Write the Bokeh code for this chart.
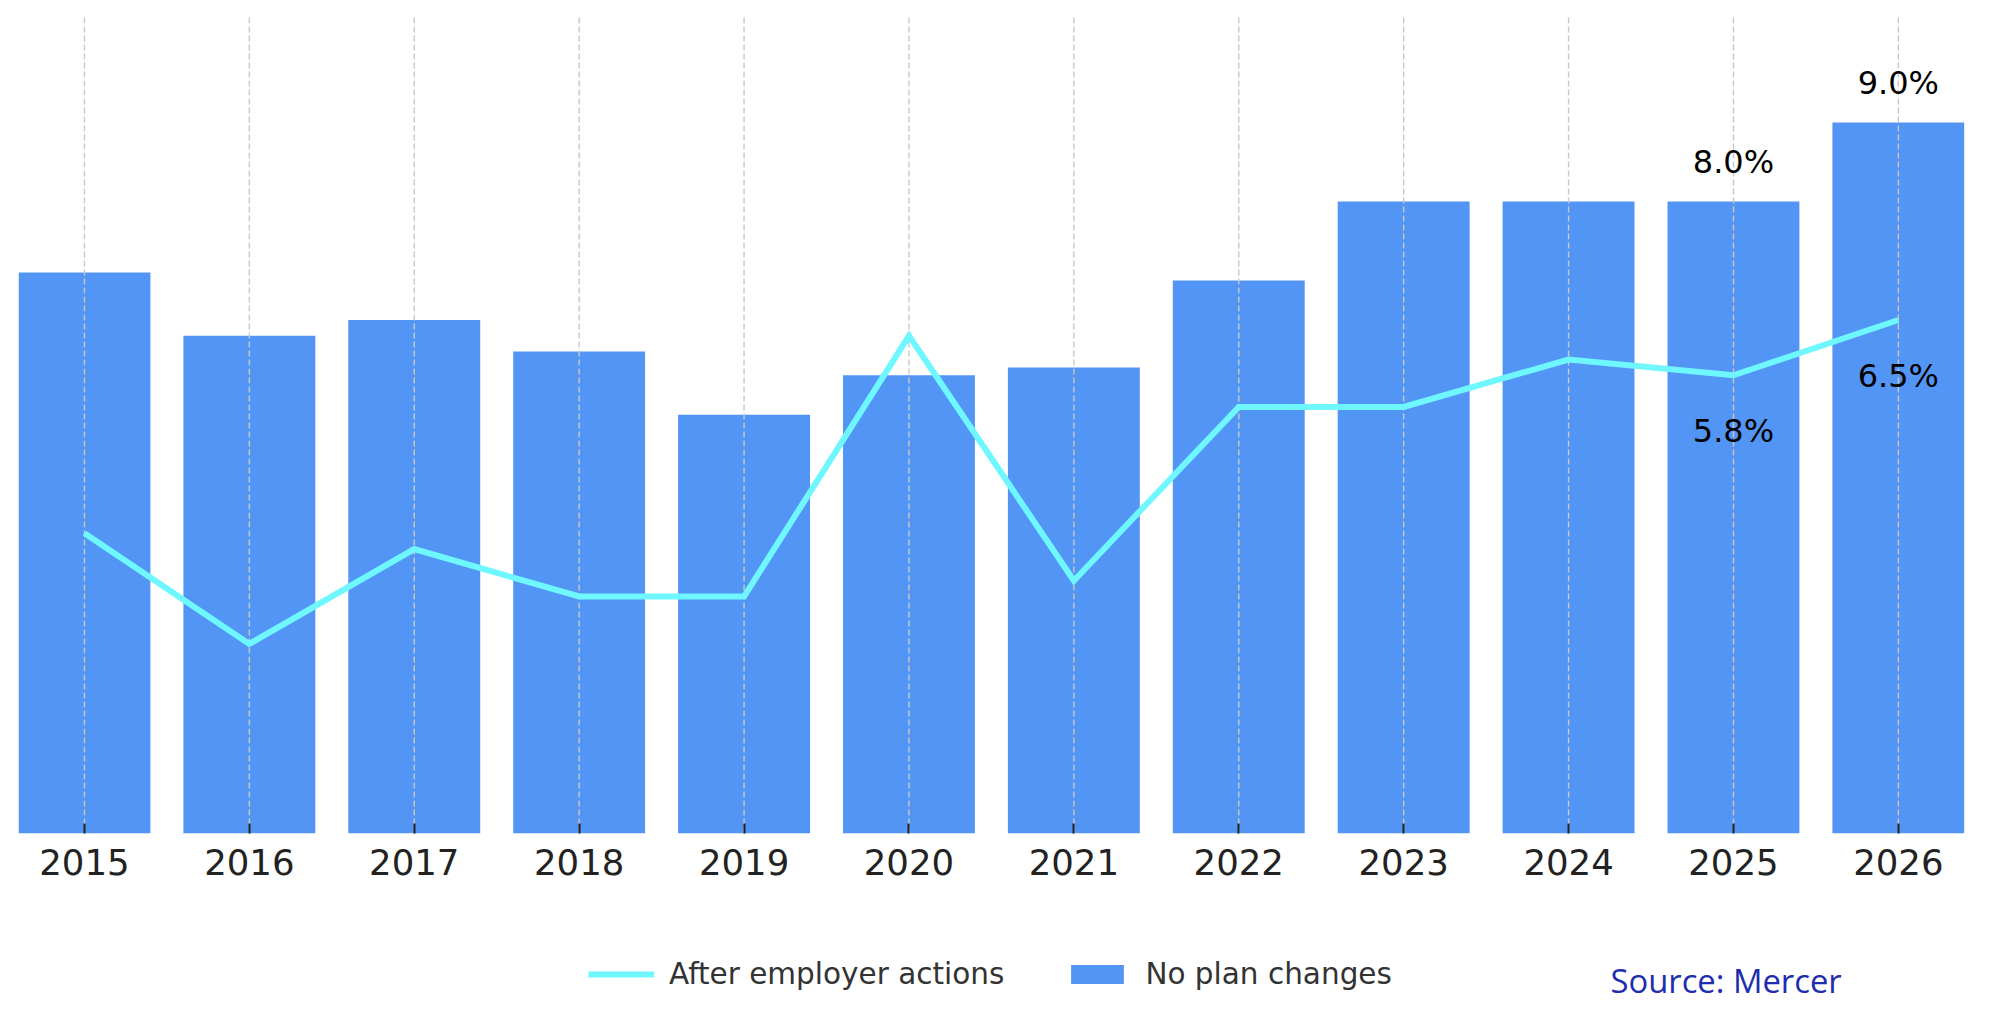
import numpy as np
from bokeh.plotting import figure
from bokeh.layouts import column
from bokeh.models import Range1d, FixedTicker, Legend, LegendItem, Label
from bokeh.core.properties import value
from bokeh.embed import file_html
from bokeh.resources import INLINE

# ---- data ----
years = ["2015", "2016", "2017", "2018", "2019", "2020",
         "2021", "2022", "2023", "2024", "2025", "2026"]
no_plan_changes = [7.1, 6.3, 6.5, 6.1, 5.3, 5.8, 5.9, 7.0, 8.0, 8.0, 8.0, 9.0]
after_employer_actions = [3.8, 2.4, 3.6, 3.0, 3.0, 6.3, 3.2, 5.4, 5.4, 6.0, 5.8, 6.5]
labelled_years = ["2025", "2026"]
series_names = ["After employer actions", "No plan changes"]
source_text = "Source: Mercer"

# ---- styles / layout ----
BAR_COLOR = "#5395F5"
LINE_COLOR = "#6FF7FF"
LINE_WIDTH = 6
PX_X = 164.9          # pixels per category
PX_Y = 79.0           # pixels per percentage point
FRAME_W = 1946
FRAME_H = 818
FIG_W = 1984
LEFT = 18
TOP = 15
MAIN_H = 903
FOOT_H = 107

xs = np.arange(len(years))
x_start = -0.4
x_end = x_start + FRAME_W / PX_X
y_end = FRAME_H / PX_Y

p = figure(width=FIG_W, height=MAIN_H,
           x_range=Range1d(x_start, x_end), y_range=Range1d(0, y_end),
           y_axis_location=None,
           output_backend="svg", toolbar_location=None,
           min_border_left=LEFT, min_border_right=FIG_W - LEFT - FRAME_W,
           min_border_top=TOP, min_border_bottom=MAIN_H - TOP - FRAME_H)
p.outline_line_color = None
p.xgrid.visible = False
p.ygrid.visible = False
p.background_fill_color = "white"
p.border_fill_color = "white"

bars = p.vbar(x=xs, top=no_plan_changes, width=0.8, bottom=0,
              fill_color=BAR_COLOR, line_color=None)

# dashed vertical gridlines at each category (between bars and line)
p.segment(x0=xs, y0=np.zeros(len(xs)), x1=xs, y1=np.full(len(xs), y_end),
          line_color="#c8c8c8", line_width=1.4, line_dash="6 3")

line = p.line(x=xs, y=after_employer_actions, line_color=LINE_COLOR,
              line_width=LINE_WIDTH, line_join="miter")

# value labels for the last years
idx = [years.index(y) for y in labelled_years]
bar_lab_y = [no_plan_changes[i] + 39.5 / PX_Y for i in idx]
line_lab_y = [after_employer_actions[i] - 56 / PX_Y for i in idx]
p.text(x=[xs[i] for i in idx], y=bar_lab_y,
       text=[f"{no_plan_changes[i]:.1f}%" for i in idx],
       text_align="center", text_baseline="alphabetic",
       text_font=value("DejaVu Sans"), text_font_size="32px", text_color="black")
p.text(x=[xs[i] for i in idx], y=line_lab_y,
       text=[f"{after_employer_actions[i]:.1f}%" for i in idx],
       text_align="center", text_baseline="alphabetic",
       text_font=value("DejaVu Sans"), text_font_size="32px", text_color="black")

# x axis
ax = p.xaxis[0]
ax.ticker = FixedTicker(ticks=[int(i) for i in xs])
ax.major_label_overrides = {int(i): y for i, y in zip(xs, years)}
ax.axis_line_color = None
ax.minor_tick_line_color = None
ax.major_tick_in = 10
ax.major_tick_out = 0
ax.major_tick_line_color = "#222222"
ax.major_tick_line_width = 2
ax.major_label_standoff = 15
ax.major_label_text_font = "DejaVu Sans"
ax.major_label_text_font_size = "35.5px"
ax.major_label_text_color = "#222222"

# ---- footer: legend + source ----
f = figure(width=FIG_W, height=FOOT_H,
           x_range=Range1d(0, FIG_W), y_range=Range1d(FOOT_H, 0),
           x_axis_location=None, y_axis_location=None,
           output_backend="svg", toolbar_location=None,
           min_border_left=0, min_border_right=0,
           min_border_top=0, min_border_bottom=0)
f.outline_line_color = None
f.xgrid.visible = False
f.ygrid.visible = False

# legend-only renderers (a single NaN point, nothing visible in the footer)
leg_line = f.line(x=[np.nan], y=[np.nan], line_color=LINE_COLOR, line_width=LINE_WIDTH)
leg_bar = f.vbar(x=[np.nan], top=[np.nan], width=1, fill_color=BAR_COLOR, line_color=None)

legend = Legend(items=[LegendItem(label=series_names[0], renderers=[leg_line]),
                       LegendItem(label=series_names[1], renderers=[leg_bar])],
                location=(570, 19), orientation="horizontal",
                glyph_width=66, glyph_height=24, label_standoff=15, spacing=60,
                padding=0, margin=0, border_line_color=None,
                background_fill_alpha=0,
                label_text_font="DejaVu Sans", label_text_font_size="29.5px",
                label_text_color="#333333")
f.add_layout(legend)

src = Label(x=1623, y=992 - MAIN_H - 12, text=source_text,
            text_font="Open Sans", text_font_size="32.8px",
            text_color="#1E2DAF", text_baseline="alphabetic", text_align="left")
f.add_layout(src)

page = column(p, f, spacing=0)
open("out.html", "w").write(file_html(page, INLINE))
